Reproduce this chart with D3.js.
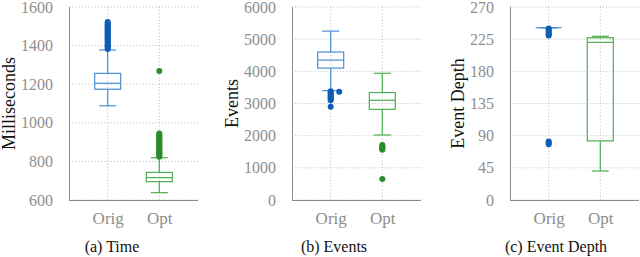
<!DOCTYPE html>
<html lang="en">
  <head>
    <meta charset="UTF-8" />
    <title>Orig vs Opt box plots</title>
    <style>
      body { margin: 0; background: #fff; }
      svg { display: block; }
    </style>
  </head>
  <body>
    <svg id="chart"></svg>
    <script src="https://cdn.jsdelivr.net/npm/d3@7"></script>
    <script>
      // categories, one box each
      const categories = ['Orig', 'Opt'];

      // (a) Time, milliseconds
      const timeStats = [
        { lo: 1088, q1: 1174, med: 1205, q3: 1256, hi: 1377 },
        { lo: 638, q1: 695, med: 716, q3: 743, hi: 819 },
      ];
      const timeOutliers = [
        [1382, 1389, 1396, 1403, 1410, 1417, 1424, 1431, 1438, 1445, 1452, 1459, 1466, 1473, 1480, 1487, 1494, 1501, 1508, 1515, 1522],
        [824, 830, 836, 842, 848, 854, 860, 866, 872, 878, 884, 890, 896, 902, 908, 914, 920, 926, 932, 938, 944, 1268],
      ];
      const timeTicks = [600, 800, 1000, 1200, 1400, 1600];

      // (b) Events
      const eventStats = [
        { lo: 3400, q1: 4100, med: 4350, q3: 4600, hi: 5250 },
        { lo: 2021, q1: 2819, med: 3100, q3: 3340, hi: 3940 },
      ];
      const eventOutliers = [
        [3380, 3340, 3300, 3260, 3220, 3180, 3140, 3100, 2900],
        [1710, 1680, 1650, 1620, 1590, 1560, 653],
      ];
      const eventStray = [3365]; // Orig point drawn at the right end of the lower cap
      const eventTicks = [0, 1000, 2000, 3000, 4000, 5000, 6000];

      // (c) Event Depth
      const depthStats = [
        { lo: 241, q1: 241, med: 241, q3: 241, hi: 241 },
        { lo: 40.5, q1: 82.7, med: 220.6, q3: 227, hi: 229 },
      ];
      const depthOutliers = [
        [240, 238, 236, 234, 232, 230, 82, 80, 78],
        [],
      ];
      const depthTicks = [0, 45, 90, 135, 180, 225, 270];

      const panels = [
        { stats: timeStats, outliers: timeOutliers, ticks: timeTicks, domain: [600, 1600], title: 'Milliseconds', caption: '(a) Time', left: 69, stray: [] },
        { stats: eventStats, outliers: eventOutliers, ticks: eventTicks, domain: [0, 6000], title: 'Events', caption: '(b) Events', left: 292, stray: eventStray },
        { stats: depthStats, outliers: depthOutliers, ticks: depthTicks, domain: [0, 270], title: 'Event Depth', caption: '(c) Event Depth', left: 510, stray: [] },
      ];

      const width = 640;
      const height = 257;
      const serif = "'Liberation Serif', 'DejaVu Serif', serif";
      const boxColors = ['#4a8ed4', '#4fae4f'];
      const dotColors = ['#0c5db3', '#2a8c2a'];

      const svg = d3.select('#chart').attr('width', width).attr('height', height);

      function drawPanel(p, i) {
        const plotW = 129;
        const top = 7;
        const bottom = 200;
        const g = svg.append('g').attr('transform', `translate(${p.left},0)`);

        const x = d3.scalePoint().domain(categories).range([0, plotW]).padding(0.75);
        const y = d3.scaleLinear().domain(p.domain).range([bottom, top]);
        const boxW = 26;
        const capW = 17;

        // grid
        g.selectAll('.hgrid')
          .data(p.ticks)
          .enter()
          .append('line')
          .attr('x1', 0)
          .attr('x2', plotW)
          .attr('y1', (d) => y(d))
          .attr('y2', (d) => y(d))
          .attr('stroke', '#a8a8a8')
          .attr('stroke-width', 0.8)
          .attr('stroke-dasharray', '1,2.2');
        g.selectAll('.vgrid')
          .data(categories)
          .enter()
          .append('line')
          .attr('x1', (d) => x(d))
          .attr('x2', (d) => x(d))
          .attr('y1', top)
          .attr('y2', bottom)
          .attr('stroke', '#a8a8a8')
          .attr('stroke-width', 0.8)
          .attr('stroke-dasharray', '1,2.2');

        // axes (left + bottom only)
        const axisY = d3.axisLeft(y).tickValues(p.ticks).tickFormat(d3.format('d')).tickSize(0).tickPadding(16);
        const ay = g.append('g').call(axisY).attr('font-family', serif).attr('font-size', 16);
        ay.select('.domain').attr('stroke', '#8a8a8a').attr('d', `M0.5,${top}V${bottom}`);
        ay.selectAll('text').attr('fill', '#8e8e8e');

        const axisX = d3.axisBottom(x).tickSize(0).tickPadding(12);
        const ax = g.append('g').attr('transform', `translate(0,${bottom})`).call(axisX)
          .attr('font-family', serif).attr('font-size', 17);
        ax.select('.domain').attr('stroke', '#8a8a8a').attr('d', `M0,0.5H${plotW}`);
        ax.selectAll('text').attr('fill', '#8e8e8e');

        // boxes
        categories.forEach((c, k) => {
          const s = p.stats[k];
          const cx = x(c);
          const col = boxColors[k];
          const bg = g.append('g').attr('stroke', col).attr('stroke-width', 1.2).attr('fill', 'none');
          bg.append('line').attr('x1', cx).attr('x2', cx).attr('y1', y(s.hi)).attr('y2', y(s.q3));
          bg.append('line').attr('x1', cx).attr('x2', cx).attr('y1', y(s.q1)).attr('y2', y(s.lo));
          bg.append('line').attr('x1', cx - capW / 2).attr('x2', cx + capW / 2).attr('y1', y(s.hi)).attr('y2', y(s.hi));
          bg.append('line').attr('x1', cx - capW / 2).attr('x2', cx + capW / 2).attr('y1', y(s.lo)).attr('y2', y(s.lo));
          bg.append('rect')
            .attr('x', cx - boxW / 2)
            .attr('y', y(s.q3))
            .attr('width', boxW)
            .attr('height', Math.max(0, y(s.q1) - y(s.q3)));
          bg.append('line').attr('x1', cx - boxW / 2).attr('x2', cx + boxW / 2).attr('y1', y(s.med)).attr('y2', y(s.med));

          g.selectAll(null)
            .data(p.outliers[k])
            .enter()
            .append('circle')
            .attr('cx', cx)
            .attr('cy', (d) => y(d))
            .attr('r', 3)
            .attr('fill', dotColors[k]);
        });

        // stray Orig point at the cap end
        g.selectAll(null)
          .data(p.stray)
          .enter()
          .append('circle')
          .attr('cx', x(categories[0]) + capW / 2)
          .attr('cy', (d) => y(d))
          .attr('r', 3)
          .attr('fill', dotColors[0]);

        // y title
        const titleX = p.ticks[p.ticks.length - 1] >= 1000 ? -60 : -52;
        g.append('text')
          .attr('transform', `translate(${titleX},${(top + bottom) / 2}) rotate(-90)`)
          .attr('text-anchor', 'middle')
          .attr('dy', '0.35em')
          .style('font-family', serif)
          .style('font-size', '18px')
          .attr('fill', '#111')
          .text(p.title);

        // caption
        svg.append('text')
          .attr('x', 112 + i * 222)
          .attr('y', 252)
          .attr('text-anchor', 'middle')
          .style('font-family', serif)
          .style('font-size', '16px')
          .attr('fill', '#111')
          .text(p.caption);
      }

      panels.forEach(drawPanel);
    </script>
  </body>
</html>
